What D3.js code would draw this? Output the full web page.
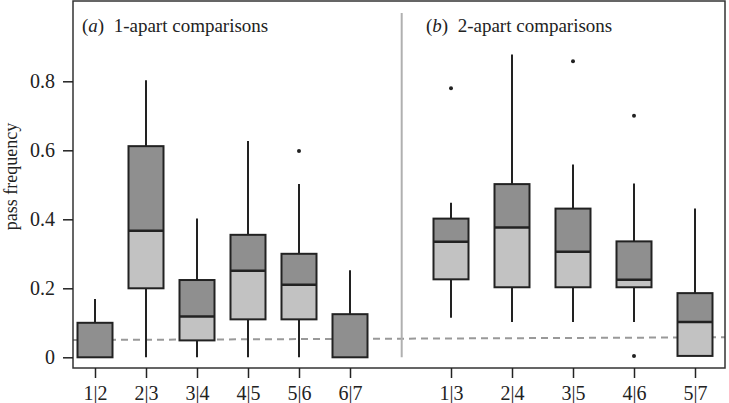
<!DOCTYPE html>
<html>
<head>
<meta charset="utf-8">
<script src="https://cdn.jsdelivr.net/npm/d3@7"></script>
<style>
  body { margin: 0; background: #fff; }
  svg { display: block; }
  text { font-family: "Liberation Serif", "DejaVu Serif", serif; fill: #222; }
</style>
</head>
<body>
<svg id="chart" width="729" height="403"></svg>
<script>
// ---- data ----
const catsA = ["1|2", "2|3", "3|4", "4|5", "5|6", "6|7"];
const minA  = [0, 0, 0, 0, 0, 0];
const q1A   = [0, 0.2, 0.049, 0.11, 0.11, 0];
const medA  = [0, 0.367, 0.118, 0.251, 0.21, 0];
const q3A   = [0.1, 0.612, 0.224, 0.355, 0.30, 0.125];
const maxA  = [0.169, 0.803, 0.402, 0.627, 0.502, 0.252];
const outA  = [[], [], [], [], [0.598], []];

const catsB = ["1|3", "2|4", "3|5", "4|6", "5|7"];
const minB  = [0.115, 0.102, 0.102, 0.102, 0.004];
const q1B   = [0.226, 0.203, 0.203, 0.203, 0.004];
const medB  = [0.335, 0.376, 0.306, 0.225, 0.102];
const q3B   = [0.402, 0.502, 0.431, 0.336, 0.186];
const maxB  = [0.448, 0.878, 0.559, 0.504, 0.431];
const outB  = [[0.78], [], [0.858], [0.70, 0.004], []];

const yTicks = [0, 0.2, 0.4, 0.6, 0.8];
const yTickLabels = ["0", "0.2", "0.4", "0.6", "0.8"];
const chanceLine = [0.05, 0.058]; // left end, right end
const titleA = ["a", "1-apart comparisons"];
const titleB = ["b", "2-apart comparisons"];
const yLabel = "pass frequency";

// ---- layout ----
const svg = d3.select("#chart");
const L = 73, R = 725, T = 1, B = 368;
const y = d3.scaleLinear().domain([0, 0.8]).range([357.3, 81.3]);
const xA = d3.scalePoint().domain(catsA).range([95, 350]);
const xB = d3.scalePoint().domain(catsB).range([451, 695]);
const boxW = 35;
const dark = "#8f8f8f", light = "#c2c2c2", ink = "#222";

// chance dashed line
svg.append("line")
  .attr("x1", L).attr("x2", R)
  .attr("y1", y(chanceLine[0])).attr("y2", y(chanceLine[1]))
  .attr("stroke", "#999").attr("stroke-width", 2)
  .attr("stroke-dasharray", "7,5");

// separator
svg.append("line")
  .attr("x1", 401.7).attr("x2", 401.7)
  .attr("y1", 13).attr("y2", y(0))
  .attr("stroke", "#b0b0b0").attr("stroke-width", 2);

function drawBoxes(cats, mins, q1s, meds, q3s, maxs, outs, x) {
  const data = cats.map((c, i) => ({c, min: mins[i], q1: q1s[i], med: meds[i], q3: q3s[i], max: maxs[i], out: outs[i]}));
  const g = svg.append("g");
  const b = g.selectAll("g.box").data(data).join("g").attr("class", "box");
  // whiskers
  b.append("line")
    .attr("x1", d => x(d.c)).attr("x2", d => x(d.c))
    .attr("y1", d => y(d.q3)).attr("y2", d => y(d.max))
    .attr("stroke", ink).attr("stroke-width", 2);
  b.filter(d => d.min < d.q1).append("line")
    .attr("x1", d => x(d.c)).attr("x2", d => x(d.c))
    .attr("y1", d => y(d.q1)).attr("y2", d => y(d.min))
    .attr("stroke", ink).attr("stroke-width", 2);
  // upper part (median to q3)
  b.append("rect")
    .attr("x", d => x(d.c) - boxW / 2).attr("width", boxW)
    .attr("y", d => y(d.q3)).attr("height", d => y(d.med) - y(d.q3))
    .attr("fill", dark);
  // lower part (q1 to median)
  b.append("rect")
    .attr("x", d => x(d.c) - boxW / 2).attr("width", boxW)
    .attr("y", d => y(d.med)).attr("height", d => y(d.q1) - y(d.med))
    .attr("fill", light);
  // outline
  b.append("rect")
    .attr("x", d => x(d.c) - boxW / 2).attr("width", boxW)
    .attr("y", d => y(d.q3)).attr("height", d => y(d.q1) - y(d.q3))
    .attr("fill", "none").attr("stroke", ink).attr("stroke-width", 2);
  // median
  b.filter(d => d.med > d.q1).append("line")
    .attr("x1", d => x(d.c) - boxW / 2).attr("x2", d => x(d.c) + boxW / 2)
    .attr("y1", d => y(d.med)).attr("y2", d => y(d.med))
    .attr("stroke", ink).attr("stroke-width", 2.5);
  // outliers
  b.selectAll("circle").data(d => d.out.map(v => ({c: d.c, v}))).join("circle")
    .attr("cx", d => x(d.c)).attr("cy", d => y(d.v)).attr("r", 2)
    .attr("fill", ink);
}
drawBoxes(catsA, minA, q1A, medA, q3A, maxA, outA, xA);
drawBoxes(catsB, minB, q1B, medB, q3B, maxB, outB, xB);

// frame
svg.append("rect").attr("x", L).attr("y", T).attr("width", R - L).attr("height", B - T)
  .attr("fill", "none").attr("stroke", "#333").attr("stroke-width", 1.5);

// y axis
const yAxis = d3.axisLeft(y).tickValues(yTicks).tickSize(10).tickPadding(8)
  .tickFormat((d, i) => yTickLabels[i]);
const gy = svg.append("g").attr("transform", `translate(${L},0)`).call(yAxis);
gy.select(".domain").remove();
gy.selectAll(".tick line").attr("stroke", ink).attr("stroke-width", 1.5);
gy.selectAll(".tick text").style("font-size", "20px").attr("fill", ink)
  .style("font-family", "'Liberation Serif', serif");

// x axes
function xAxisDraw(x) {
  const ax = d3.axisBottom(x).tickSize(10).tickPadding(8);
  const g = svg.append("g").attr("transform", `translate(0,${B})`).call(ax);
  g.select(".domain").remove();
  g.selectAll(".tick line").attr("stroke", ink).attr("stroke-width", 1.5);
  g.selectAll(".tick text").style("font-size", "20px").attr("fill", ink)
    .style("font-family", "'Liberation Serif', serif");
}
xAxisDraw(xA);
xAxisDraw(xB);

// panel titles
function title(xp, t) {
  const tx = svg.append("text").attr("x", xp).attr("y", 32).style("font-size", "19px");
  tx.append("tspan").text("(");
  tx.append("tspan").style("font-style", "italic").text(t[0]);
  tx.append("tspan").text(")\u2002" + t[1]);
}
title(82, titleA);
title(426, titleB);

// y label
svg.append("text")
  .attr("transform", `translate(17,${(T + B) / 2 - 8}) rotate(-90)`)
  .attr("text-anchor", "middle")
  .style("font-size", "18px")
  .text(yLabel);
</script>
</body>
</html>
